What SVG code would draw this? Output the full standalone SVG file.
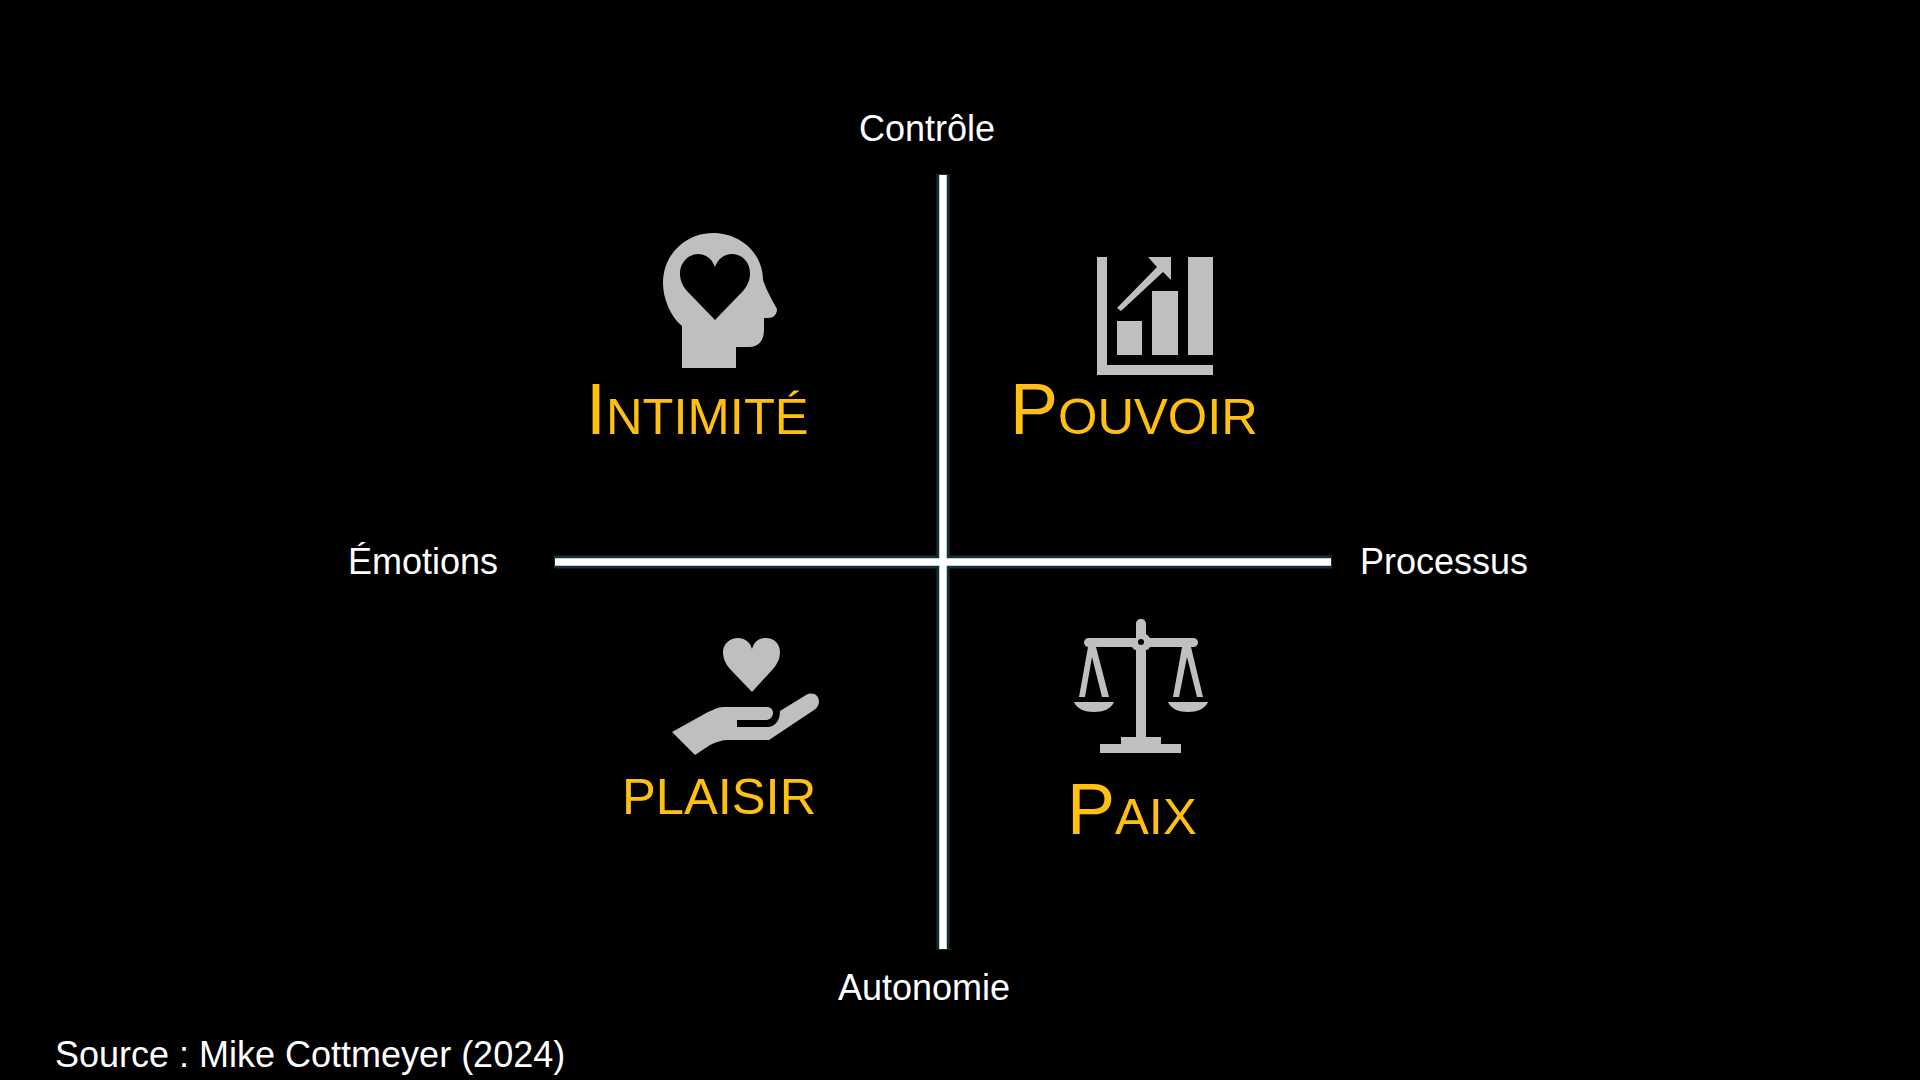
<svg xmlns="http://www.w3.org/2000/svg" width="1920" height="1080" viewBox="0 0 1920 1080">
<style>
text{font-family:"Liberation Sans",Arial,sans-serif}
.lab{fill:#fff;font-size:36px}
.q{fill:#ffc011;font-size:50.67px}
.cap{font-size:72px}
.ic{fill:#bfbfbf}
.ax{stroke:#12303a;stroke-width:13}
.axw{stroke:#fff;stroke-width:7.500}
</style>
<rect width="1920" height="1080" fill="#000"/>
<g id="connectors">
<path class="ax" d="M943 174V950M554 562H1332"/>
<path class="axw" d="M943 175V949M555 562H1331"/>
</g>
<g id="label-controle"><text class="lab" x="859" y="141">Contrôle</text></g>
<g id="label-autonomie"><text class="lab" x="838" y="1000">Autonomie</text></g>
<g id="label-emotions"><text class="lab" x="348" y="574">Émotions</text></g>
<g id="label-processus"><text class="lab" x="1360" y="574">Processus</text></g>
<g id="source"><text class="lab" x="55" y="1067">Source : Mike Cottmeyer (2024)</text></g>
<g id="intimite">
<path class="ic" fill-rule="evenodd" d="M682 368V326C670 316 663 298 663 283C663 254 686 233 713 233C741 233 763 254 763 280L766 288L772 300L777 309C777 315 773 318 768 318H764V330C764 341 758 347 749 347H736V368ZM715 320L687 291C681 284 680 278 680 273C680 262 689 254 698 254C706 254 712 259 715 267C718 259 724 254 732 254C742 254 750 262 750 273C750 278 749 284 743 291Z"/>
<text class="q" x="586" y="434"><tspan class="cap">I</tspan>NTIMITÉ</text>
</g>
<g id="pouvoir">
<path class="ic" d="M1097 257H1107V365H1213V375H1097ZM1117 321H1142V355H1117ZM1152 291H1178V355H1152ZM1188 257H1213V355H1188ZM1117 308L1157 267L1148 257H1171V280L1163 272L1121 311Z"/>
<text class="q" x="1010" y="434"><tspan class="cap">P</tspan>OUVOIR</text>
</g>
<g id="plaisir">
<path class="ic" d="M752 692L730 669C725 663 723 658 723 652C723 644 730 638 738 638C745 638 750 642 752 649C754 642 759 638 766 638C774 638 780 644 780 652C780 658 778 663 773 669Z"/>
<path class="ic" d="M672 732L695 755L710 745C716 742 722 740 728 740H769L814 710C820 706 820 700 817 696C814 693 810 693 806 695L780 711C780 721 775 727 767 727H737V720H767C771 719 773 716 773 713C773 709 770 707 767 707H723C718 707 713 710 708 712Z"/>
<text class="q" x="622" y="814">PLAISIR</text>
</g>
<g id="paix">
<path class="ic" fill-rule="evenodd" d="M1136 638V624C1136 621 1138 619 1141 619C1144 619 1146 621 1146 624V634C1148 635 1149 637 1150 638H1193C1196 638 1198 640 1198 642.500C1198 645 1196 647 1193 647H1150C1149 648 1148 650 1146 650V737H1161V744H1181V753H1100V744H1121V737H1136V650C1134 650 1133 648 1132 647H1089C1086 647 1084 645 1084 642.500C1084 640 1086 638 1089 638ZM1141 639A3 3 0 1 0 1141 645A3 3 0 1 0 1141 639Z"/>
<path class="ic" d="M1088 647H1096L1109 697H1102L1092 657L1085 697H1079ZM1074 702H1114C1111 709 1103 712 1094 712C1085 712 1077 709 1074 702ZM1182 647H1191L1203 697H1197L1187 657L1179 697H1173ZM1168 702H1208C1205 709 1197 712 1188 712C1179 712 1171 709 1168 702Z"/>
<text class="q" x="1067" y="834"><tspan class="cap">P</tspan>AIX</text>
</g>
</svg>
